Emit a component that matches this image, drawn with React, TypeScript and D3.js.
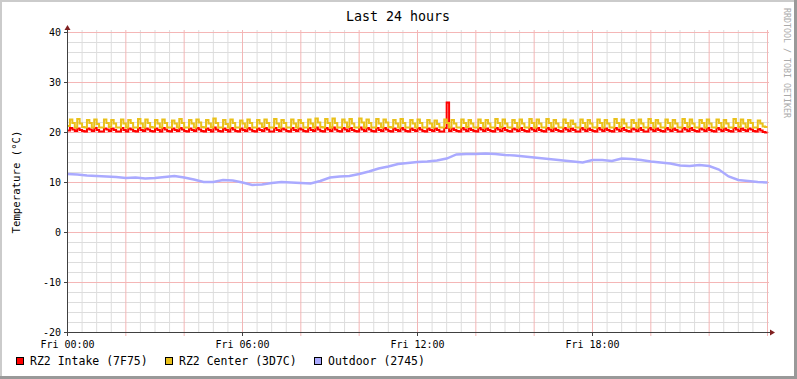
import React from 'react';
import * as d3 from 'd3';

const TITLE = 'Last 24 hours';
const Y_LABEL = 'Temperature (°C)';
const WATERMARK = 'RRDTOOL / TOBI OETIKER';
const X_LABEL_HOURS = [0, 6, 12, 18];
const X_LABELS = ['Fri 00:00', 'Fri 06:00', 'Fri 12:00', 'Fri 18:00'];
const Y_TICKS = [-20, -10, 0, 10, 20, 30, 40];
const SERIES_NAMES = ['RZ2 Intake (7F75)', 'RZ2 Center (3D7C)', 'Outdoor (2745)'];
const SERIES_COLORS = ['#FF0000', '#EAC11A', '#AAAAFF'];

// 5-minute samples, 00:00 .. 24:00
const intake = [
  20.4, 20.9, 20.6, 20.3, 20.8, 20.5, 20.3, 20.2, 20.8, 20.6, 20.3, 20.9, 20.5, 20.2, 20.2, 20.8, 20.6, 20.3, 20.8, 20.5, 20.2, 20.2, 20.9, 20.5,
  20.2, 20.8, 20.6, 20.3, 20.2, 20.9, 20.5, 20.3, 20.8, 20.6, 20.3, 20.2, 20.8, 20.5, 20.2, 20.9, 20.6, 20.3, 20.2, 20.8, 20.5, 20.3, 20.9, 20.6,
  20.3, 20.2, 20.8, 20.5, 20.3, 20.9, 20.6, 20.3, 20.2, 20.8, 20.5, 20.2, 21.0, 20.6, 20.3, 20.2, 20.8, 20.5, 20.2, 20.9, 20.6, 20.3, 20.2, 20.8,
  20.5, 20.3, 20.9, 20.6, 20.3, 20.2, 20.8, 20.5, 20.3, 20.9, 20.6, 20.2, 20.2, 20.9, 20.5, 20.3, 20.8, 20.6, 20.3, 20.2, 20.9, 20.5, 20.3, 20.8,
  20.6, 20.3, 20.2, 20.9, 20.5, 20.3, 21.0, 20.6, 20.3, 20.2, 20.9, 20.6, 20.3, 21.0, 20.6, 20.3, 20.2, 20.9, 20.6, 20.3, 20.9, 20.5, 20.3, 20.2,
  21.0, 20.6, 20.3, 20.9, 20.6, 20.3, 20.2, 20.9, 20.5, 20.3, 20.9, 20.6, 20.3, 20.2, 20.8, 20.5, 20.3, 20.9, 20.6, 20.3, 20.2, 20.8, 20.5, 20.3,
  20.9, 20.6, 20.3, 20.2, 20.8, 20.5, 20.3, 20.8, 20.5, 20.2, 20.2, 20.9, 26.0, 20.3, 20.8, 20.5, 20.3, 20.2, 20.9, 20.6, 20.3, 20.8, 20.5, 20.3,
  20.2, 20.9, 20.6, 20.3, 20.8, 20.5, 20.3, 20.2, 20.9, 20.6, 20.3, 20.9, 20.5, 20.3, 20.2, 20.8, 20.6, 20.3, 20.9, 20.5, 20.3, 20.2, 20.9, 20.6,
  20.3, 20.9, 20.5, 20.3, 20.2, 20.9, 20.6, 20.3, 20.8, 20.5, 20.3, 20.2, 20.9, 20.6, 20.3, 20.8, 20.5, 20.2, 20.2, 20.9, 20.6, 20.3, 20.8, 20.5,
  20.3, 20.2, 20.9, 20.6, 20.3, 20.8, 20.5, 20.3, 20.2, 20.9, 20.6, 20.3, 20.9, 20.5, 20.3, 20.2, 20.8, 20.6, 20.3, 20.9, 20.5, 20.2, 20.2, 20.9,
  20.6, 20.3, 20.8, 20.5, 20.3, 20.2, 20.9, 20.6, 20.3, 20.8, 20.5, 20.2, 20.2, 20.9, 20.6, 20.3, 20.9, 20.5, 20.3, 20.2, 20.8, 20.6, 20.3, 20.9,
  20.5, 20.3, 20.2, 20.9, 20.6, 20.3, 20.8, 20.5, 20.3, 20.2, 20.9, 20.6, 20.3, 20.8, 20.5, 20.3, 20.8, 20.6, 20.3, 20.2, 20.7, 20.4, 20.1, 20.0,
];

const center = [
  21.3, 22.6, 21.9, 21.0, 22.7, 21.8, 21.1, 21.0, 22.5, 21.9, 21.0, 22.6, 21.7, 21.0, 21.0, 22.6, 21.9, 21.1, 22.5, 21.8, 21.0, 21.0, 22.6, 21.8,
  21.0, 22.5, 21.9, 21.0, 21.0, 22.7, 21.8, 21.0, 22.6, 21.9, 21.1, 21.0, 22.5, 21.8, 21.0, 22.6, 21.9, 21.0, 21.0, 22.4, 21.8, 21.0, 22.7, 21.9,
  21.0, 21.0, 22.5, 21.8, 21.0, 22.6, 22.0, 21.1, 21.0, 22.5, 21.8, 21.0, 22.8, 21.9, 21.0, 21.0, 22.5, 21.7, 21.0, 22.6, 21.9, 21.0, 21.0, 22.4,
  21.8, 21.0, 22.6, 21.9, 21.0, 21.0, 22.5, 21.8, 21.1, 22.6, 21.9, 21.0, 21.0, 22.7, 21.8, 21.0, 22.5, 21.9, 21.0, 21.0, 22.6, 21.8, 21.0, 22.5,
  21.9, 21.0, 21.0, 22.6, 21.8, 21.0, 22.8, 22.0, 21.1, 21.0, 22.7, 21.9, 21.0, 22.8, 21.9, 21.0, 21.0, 22.6, 22.0, 21.1, 22.7, 21.8, 21.0, 21.0,
  22.8, 22.0, 21.0, 22.6, 21.9, 21.0, 21.0, 22.7, 21.8, 21.0, 22.6, 22.0, 21.1, 21.0, 22.5, 21.8, 21.0, 22.7, 21.9, 21.0, 21.0, 22.5, 21.8, 21.0,
  22.6, 21.9, 21.0, 21.0, 22.5, 21.8, 21.0, 22.4, 21.7, 21.0, 21.0, 22.6, 21.9, 21.0, 22.5, 21.8, 21.0, 21.0, 22.6, 21.9, 21.1, 22.5, 21.8, 21.0,
  21.0, 22.6, 21.9, 21.0, 22.5, 21.8, 21.0, 21.0, 22.7, 21.9, 21.1, 22.6, 21.8, 21.0, 21.0, 22.5, 21.9, 21.0, 22.6, 21.8, 21.0, 21.0, 22.7, 21.9,
  21.0, 22.6, 21.8, 21.0, 21.0, 22.7, 21.9, 21.0, 22.5, 21.8, 21.0, 21.0, 22.6, 21.9, 21.1, 22.4, 21.7, 21.0, 21.0, 22.6, 21.9, 21.0, 22.5, 21.8,
  21.0, 21.0, 22.6, 21.9, 21.0, 22.5, 21.8, 21.0, 21.0, 22.7, 21.9, 21.1, 22.6, 21.8, 21.0, 21.0, 22.5, 21.9, 21.0, 22.6, 21.8, 21.0, 21.0, 22.7,
  21.9, 21.0, 22.5, 21.8, 21.0, 21.0, 22.6, 21.9, 21.0, 22.5, 21.8, 21.0, 21.0, 22.7, 21.9, 21.1, 22.6, 21.8, 21.0, 21.0, 22.5, 21.9, 21.0, 22.6,
  21.8, 21.0, 21.0, 22.6, 21.9, 21.0, 22.5, 21.8, 21.0, 21.0, 22.7, 21.9, 21.1, 22.6, 21.8, 21.0, 22.5, 21.9, 21.0, 21.0, 22.4, 21.8, 21.2, 21.1,
];

// 20-minute samples, 00:00 .. 24:00
const outdoor = [
  11.7, 11.6, 11.4, 11.3, 11.2, 11.1, 10.9, 11.0, 10.8, 10.9, 11.1, 11.3, 11.0, 10.6, 10.1, 10.1, 10.5, 10.4,
  10.0, 9.5, 9.6, 9.9, 10.1, 10.0, 9.9, 9.8, 10.3, 11.0, 11.2, 11.3, 11.7, 12.2, 12.8, 13.2, 13.7, 13.9,
  14.1, 14.2, 14.4, 14.8, 15.6, 15.7, 15.7, 15.8, 15.7, 15.5, 15.4, 15.2, 15.0, 14.8, 14.6, 14.4, 14.2, 14.0,
  14.5, 14.5, 14.3, 14.8, 14.7, 14.5, 14.2, 14.0, 13.8, 13.4, 13.3, 13.5, 13.3, 12.6, 11.2, 10.5, 10.3, 10.1, 10.0,
];

const W = 797;
const H = 379;
const FONT = "'DejaVu Sans Mono', monospace";

export default function App() {
  const x = d3.scaleLinear().domain([0, 24]).range([67.5, 767.5]);
  const y = d3.scaleLinear().domain([-20, 40]).range([332.5, 32.5]);

  const stepPts = (vals: number[]) => {
    const dt = 24 / vals.length;
    const pts: [number, number][] = vals.map((v, i) => [i * dt, v]);
    pts.push([24, vals[vals.length - 1]]);
    return pts;
  };
  const stepLine = d3
    .line<[number, number]>()
    .x((d) => x(d[0]))
    .y((d) => y(d[1]))
    .curve(d3.curveStepAfter);
  const linLine = d3
    .line<number>()
    .x((_, i) => x((i * 24) / (outdoor.length - 1)))
    .y((d) => y(d));

  const minorX = d3.range(0, 24.01, 0.5).filter((h) => h % 2 !== 0);
  const majorX = d3.range(2, 24.01, 2);
  const minorY = d3.range(-20, 40.01, 2).filter((v) => v % 10 !== 0);
  const majorY = Y_TICKS;

  const legendX = [16, 165, 314];

  return (
    <svg
      width={W}
      height={H}
      style={{ position: 'absolute', left: 0, top: 0, display: 'block' }}
      fontFamily={FONT}
    >
      <rect x={0} y={0} width={W} height={H} fill="#FFFFFF" />
      {/* frame shading */}
      <rect x={0} y={0} width={W} height={2} fill="#CBCBCB" />
      <rect x={0} y={0} width={2} height={H} fill="#CBCBCB" />
      <rect x={W - 3} y={0} width={3} height={H} fill="#999999" />
      <rect x={0} y={H - 3} width={W} height={3} fill="#999999" />

      {/* minor grid */}
      {minorY.map((v) => (
        <line key={'my' + v} x1={67} x2={769} y1={y(v)} y2={y(v)} stroke="#DDDDDD" strokeWidth={1} />
      ))}
      {minorX.map((h) => (
        <line key={'mx' + h} x1={x(h)} x2={x(h)} y1={30} y2={332} stroke="#DDDDDD" strokeWidth={1} />
      ))}
      {/* major grid */}
      {majorY.map((v) => (
        <line key={'My' + v} x1={64} x2={769} y1={y(v)} y2={y(v)} stroke="#F4B6B6" strokeWidth={1} />
      ))}
      {majorX.map((h) => (
        <line key={'Mx' + h} x1={x(h)} x2={x(h)} y1={30} y2={336} stroke="#F4B6B6" strokeWidth={1} />
      ))}

      {/* data */}
      <path d={stepLine(stepPts(intake)) || ''} fill="none" stroke={SERIES_COLORS[0]} strokeWidth={2} />
      <path d={stepLine(stepPts(center)) || ''} fill="none" stroke={SERIES_COLORS[1]} strokeWidth={2} />
      <path d={linLine(outdoor) || ''} fill="none" stroke={SERIES_COLORS[2]} strokeWidth={2.4} />

      {/* axes */}
      <line x1={64} x2={771} y1={332.5} y2={332.5} stroke="#404040" strokeWidth={1} />
      <line x1={67.5} x2={67.5} y1={335} y2={28} stroke="#404040" strokeWidth={1} />
      <path d="M770,329.5 L775,332.5 L770,335.5 Z" fill="#802020" />
      <path d="M64.5,30 L67.5,25 L70.5,30 Z" fill="#802020" />
      {X_LABEL_HOURS.map((h) => (
        <line key={'tx' + h} x1={x(h)} x2={x(h)} y1={332} y2={336} stroke="#404040" strokeWidth={1} />
      ))}
      {majorY.map((v) => (
        <line key={'ty' + v} x1={64} x2={67} y1={y(v)} y2={y(v)} stroke="#404040" strokeWidth={1} />
      ))}

      {/* tick labels */}
      {Y_TICKS.map((v) => (
        <text key={'yl' + v} x={61} y={y(v) + 3.5} textAnchor="end" fontSize={10} fill="#000">
          {v}
        </text>
      ))}
      {X_LABELS.map((l, i) => (
        <text key={'xl' + i} x={x(X_LABEL_HOURS[i])} y={348} textAnchor="middle" fontSize={10} fill="#000">
          {l}
        </text>
      ))}

      {/* title */}
      <text x={398} y={21} textAnchor="middle" fontSize={13.3} fill="#000">
        {TITLE}
      </text>
      {/* y axis label */}
      <text transform="translate(20,182) rotate(-90)" textAnchor="middle" fontSize={10.7} fill="#000">
        {Y_LABEL}
      </text>
      {/* watermark */}
      <text transform="translate(784,8) rotate(90)" textAnchor="start" fontSize={8.3} fill="#AAAAAA">
        {WATERMARK}
      </text>

      {/* legend */}
      {SERIES_NAMES.map((n, i) => (
        <g key={'lg' + i}>
          <rect x={legendX[i] + 0.5} y={357.5} width={7} height={7} fill={SERIES_COLORS[i]} stroke="#000" strokeWidth={1} />
          <text x={legendX[i] + 14} y={365} fontSize={11.5} fill="#000">
            {n}
          </text>
        </g>
      ))}
    </svg>
  );
}
